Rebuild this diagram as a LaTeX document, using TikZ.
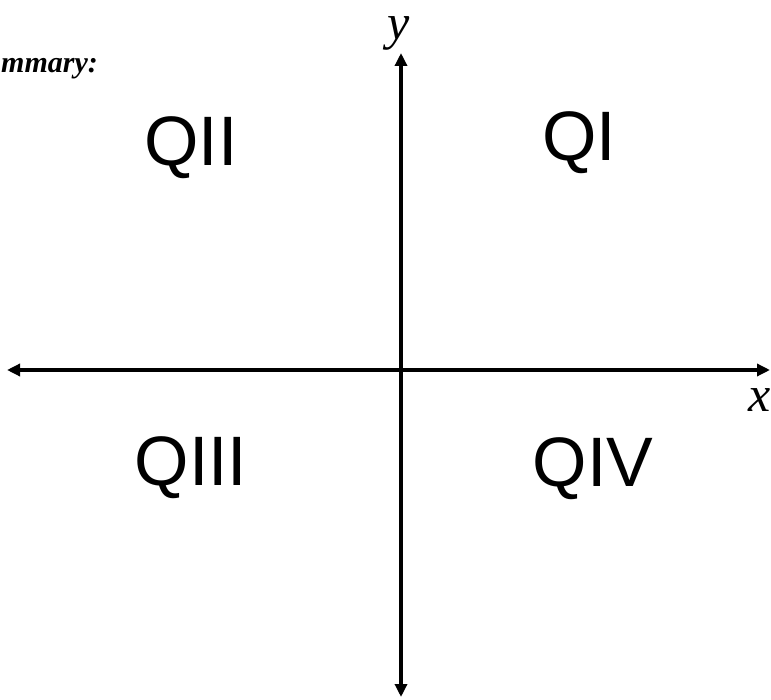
\documentclass[tikz,border=0pt]{standalone}
\usepackage{fontspec}
\setmainfont{Liberation Serif}
\newfontfamily\quadfont{Liberation Sans}
\usetikzlibrary{arrows.meta}
\begin{document}
\begin{tikzpicture}[x=1pt,y=-1pt,
  axis/.style={line width=3.5pt,{Triangle[length=13pt,width=12pt]}-{Triangle[length=13pt,width=12pt]}},
  quad/.style={font=\quadfont\fontsize{70}{84}\selectfont,inner sep=0pt},
  axlabel/.style={font=\fontsize{50}{56}\selectfont\itshape,inner sep=0pt}]
\useasboundingbox (0,0) rectangle (771,700);
\coordinate (ytop) at (401,53);
\coordinate (ybot) at (401,697);
\coordinate (xleft) at (7,370);
\coordinate (xright) at (770,370);
\draw[axis] (xleft) -- (xright);
\draw[axis] (ybot) -- (ytop);
\node[axlabel,anchor=base] (ylab) at (399,40) {y};
\node[axlabel,anchor=base] (xlab) at (760,412) {x};
\node[quad] (q1) at (579,143) {QI};
\node[quad] (q2) at (191,148) {QII};
\node[quad] (q3) at (191,468) {QIII};
\node[quad] (q4) at (593,469) {QIV};
\node[anchor=base west,inner sep=0pt,font=\fontsize{30}{34}\selectfont\bfseries\itshape] (summ) at (1,73) {mmary:};
\end{tikzpicture}
\end{document}
